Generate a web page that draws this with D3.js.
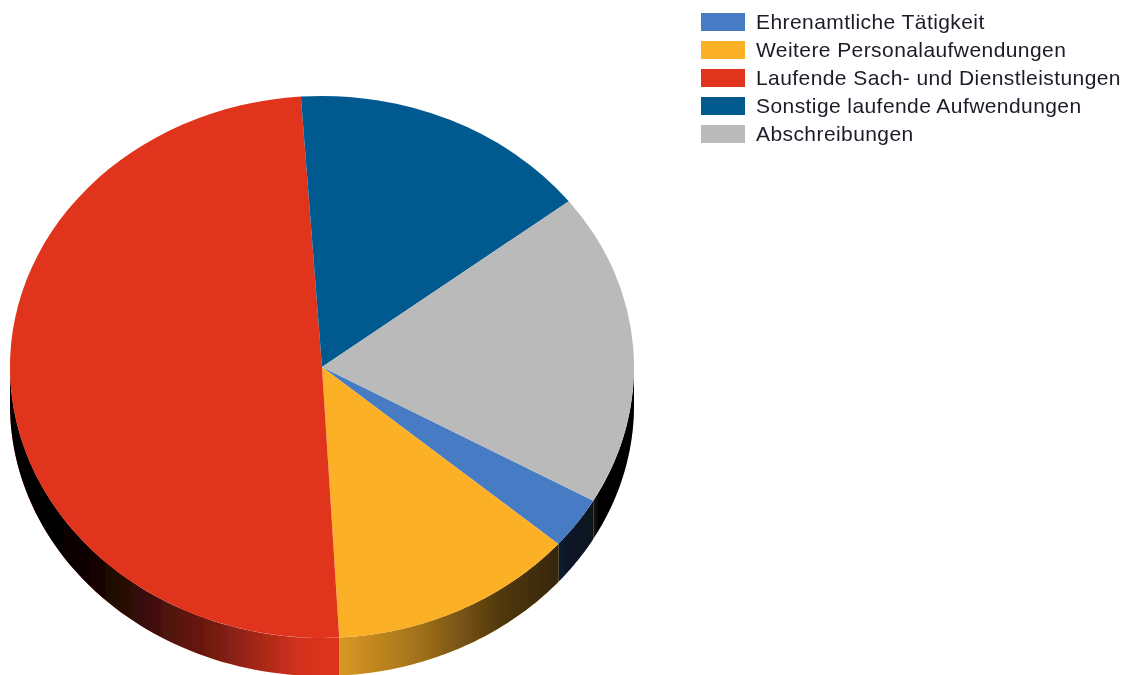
<!DOCTYPE html>
<html>
<head>
<meta charset="utf-8">
<script src="https://cdn.jsdelivr.net/npm/d3@7"></script>
<style>
  html, body { margin: 0; padding: 0; background: #fff; overflow: hidden; }
  text { font-family: "Liberation Sans", Arial, sans-serif; }
</style>
</head>
<body>
<div class="container"></div>
<script>
const categories = [
  "Ehrenamtliche Tätigkeit",
  "Weitere Personalaufwendungen",
  "Laufende Sach- und Dienstleistungen",
  "Sonstige laufende Aufwendungen",
  "Abschreibungen"
];
const values = [3.1, 12.8, 49.8, 15.6, 18.7];
const colors = ["#477cc4", "#fbb028", "#e0351f", "#005a8f", "#bababa"];

const w = 1131;
const h = 675;
const cx = 322;
const cy = 367;
const rx = 312;
const ry = 271;
const depth = 38;
// the first slice starts here, clockwise from 12 o'clock
const startAngle = 119.6 * Math.PI / 180;

const svg = d3.select(".container")
  .append("svg")
  .attr("width", w)
  .attr("height", h)
  .style("display", "block");

const defs = svg.append("defs");

// darkening of the rim, black with opacity over the slice colour
const shadeStops = [
  [10, 1], [50, 0.99], [80, 0.95], [120, 0.84], [160, 0.68], [210, 0.5], [250, 0.3],
  [300, 0.06], [338, 0], [340, 0.14], [420, 0.36], [500, 0.68], [556, 0.78],
  [592, 0.85], [600, 1], [634, 1]
];
const shade = defs.append("linearGradient")
  .attr("id", "rimShade")
  .attr("gradientUnits", "userSpaceOnUse")
  .attr("x1", cx - rx).attr("x2", cx + rx)
  .attr("y1", 0).attr("y2", 0);
shade.selectAll("stop")
  .data(shadeStops)
  .enter()
  .append("stop")
  .attr("offset", d => (d[0] - (cx - rx)) / (2 * rx))
  .attr("stop-color", "#000")
  .attr("stop-opacity", d => d[1]);

defs.append("filter")
  .attr("id", "soft")
  .append("feGaussianBlur")
  .attr("stdDeviation", 0.6);

const pie = d3.pie()
  .sort(null)
  .startAngle(startAngle)
  .endAngle(startAngle + 2 * Math.PI);
const slices = pie(values);

// angle -> point on the top ellipse
const px = a => cx + rx * Math.sin(a);
const py = a => cy - ry * Math.cos(a);

// only the part of a slice facing the viewer gets a rim (90deg to 270deg)
function rimPoints(d) {
  const pieces = [];
  [0, 2 * Math.PI].forEach(turn => {
    const a0 = Math.max(d.startAngle, Math.PI / 2 + turn);
    const a1 = Math.min(d.endAngle, 3 * Math.PI / 2 + turn);
    if (a1 > a0) {
      pieces.push(d3.range(0, 61).map(i => a0 + (a1 - a0) * i / 60));
    }
  });
  return pieces;
}

const rimArea = d3.area()
  .x(a => px(a))
  .y0(a => py(a))
  .y1(a => py(a) + depth);

const chart = svg.append("g").attr("filter", "url(#soft)");

const rim = chart.append("g");
slices.forEach((d, i) => {
  rimPoints(d).forEach(points => {
    rim.append("path").attr("d", rimArea(points)).attr("fill", colors[i]);
    rim.append("path").attr("d", rimArea(points)).attr("fill", "url(#rimShade)");
  });
});

const arc = d3.arc().innerRadius(0).outerRadius(rx);

chart.append("g")
  .attr("transform", `translate(${cx},${cy}) scale(1,${ry / rx})`)
  .selectAll("path")
  .data(slices)
  .enter()
  .append("path")
  .attr("d", arc)
  .attr("fill", (d, i) => colors[i]);

// legend
const legendY = d3.scalePoint()
  .domain(categories)
  .range([22, 134]);

const legend = svg.append("g").attr("filter", "url(#soft)");

legend.selectAll("rect")
  .data(categories)
  .enter()
  .append("rect")
  .attr("x", 701)
  .attr("y", d => legendY(d) - 9)
  .attr("width", 44)
  .attr("height", 18)
  .attr("fill", (d, i) => colors[i]);

legend.selectAll("text")
  .data(categories)
  .enter()
  .append("text")
  .attr("x", 756)
  .attr("y", d => legendY(d) + 7)
  .attr("font-size", 21)
  .attr("letter-spacing", 0.42)
  .attr("fill", "#1f1a28")
  .text(d => d);
</script>
</body>
</html>
